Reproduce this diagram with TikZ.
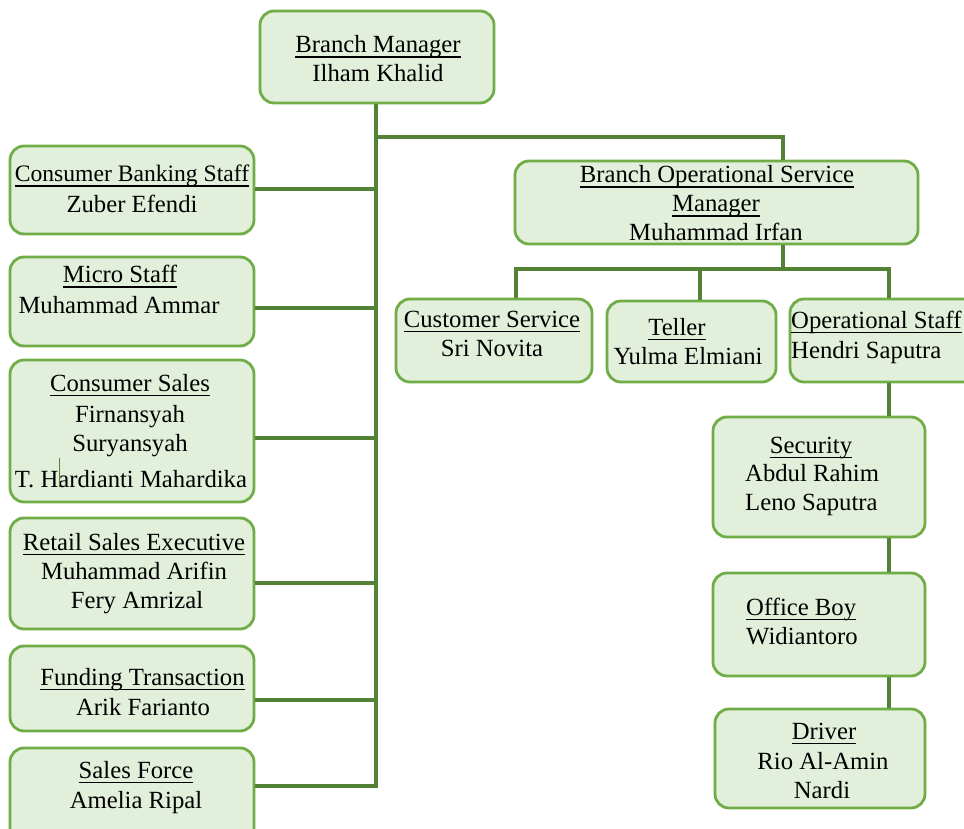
\documentclass[tikz,border=0pt]{standalone}
\usepackage{fontspec}
\setmainfont{Liberation Serif}
\definecolor{lineg}{HTML}{548235}
\definecolor{boxb}{HTML}{70AD47}
\definecolor{boxf}{HTML}{E2EFDA}
\newcommand\uln[1]{\setbox0\hbox{#1}\rlap{\rule[-5.4pt]{\wd0}{1.9pt}}\box0}
\newcommand\bx[5]{\node[box,minimum width={#4-#2},minimum height={#5-#3}] (#1) at ({(#2+#4)/2},{(#3+#5)/2}) {};}
\begin{document}
\begin{tikzpicture}[x=1pt,y=-1pt,
  box/.style={draw=boxb,fill=boxf,line width=2.8pt,rounded corners=14pt,inner sep=0pt},
  conn/.style={draw=lineg,line width=3.8pt},
  txt/.style={anchor=base,inner sep=0pt,font=\fontsize{24.7}{29}\selectfont},
  txtl/.style={txt,anchor=base west}]
\clip (0,0) rectangle (964,829);
\fill[white] (0,0) rectangle (964,829);
% boxes
\bx{bm}{260}{11}{494}{103}
\bx{cbs}{10}{146}{254}{234}
\bx{ms}{10}{257}{254}{346}
\bx{cs}{10}{360}{254}{502}
\bx{rse}{10}{518}{254}{629}
\bx{ft}{10}{646}{254}{731}
\bx{sf}{10}{748}{254}{850}
\bx{bosm}{515}{161}{918}{244}
\bx{csv}{396}{299}{592}{382}
\bx{tel}{607}{301}{776}{382}
\bx{ops}{790}{299}{990}{382}
\bx{sec}{713}{417}{925}{537}
\bx{ob}{713}{573}{925}{676}
\bx{drv}{715}{709}{925}{808}
% coordinates
\coordinate (trunkend) at (376,786);
\coordinate (rtop) at (783,137);
\coordinate (rmid) at (783,269);
\coordinate (hl) at (516,269);
\coordinate (hr) at (889,269);
% connectors
\draw[conn] (bm.south -| trunkend) -- (trunkend);
\draw[conn] (bm.south |- rtop) -- (rtop) -- (rtop |- bosm.north);
\draw[conn] (cbs.east |- {(0,189)}) -- (trunkend |- {(0,189)});
\draw[conn] (ms.east |- {(0,308)}) -- (trunkend |- {(0,308)});
\draw[conn] (cs.east |- {(0,438)}) -- (trunkend |- {(0,438)});
\draw[conn] (rse.east |- {(0,583)}) -- (trunkend |- {(0,583)});
\draw[conn] (ft.east |- {(0,700)}) -- (trunkend |- {(0,700)});
\draw[conn] (sf.east |- trunkend) -- ([xshift=1.9pt]trunkend);
\draw[conn] (rmid |- bosm.south) -- (rmid);
\draw[conn] ([xshift=-1.9pt]hl) -- ([xshift=1.9pt]hr);
\draw[conn] (hl) -- (hl |- csv.north);
\draw[conn] (700,269) -- (tel.north -| 700,0);
\draw[conn] (hr) -- (hr |- ops.north);
\draw[conn] (ops.south -| hr) -- (sec.north -| hr);
\draw[conn] (sec.south -| hr) -- (ob.north -| hr);
\draw[conn] (ob.south -| hr) -- (drv.north -| hr);
% texts
\node[txt] (bm1) at (378,53) {\uln{Branch Manager}};
\node[txt] (bm2) at (378,82) {Ilham Khalid};
\node[txt,font=\fontsize{23.6}{29}\selectfont] (cbs1) at (132,182) {\uln{Consumer Banking Staff}};
\node[txt] (cbs2) at (132,213) {Zuber Efendi};
\node[txt] (ms1) at (120,283) {\uln{Micro Staff}};
\node[txt] (ms2) at (119,313) {Muhammad Ammar};
\node[txt] (cs1) at (130,391) {\uln{Consumer Sales}};
\node[txt] (cs2) at (130,422) {Firnansyah};
\node[txt] (cs3) at (130,451) {Suryansyah};
\node[txt] (cs4) at (131,487) {T. Hardianti Mahardika};
\draw[lineg,line width=1pt] (59,458) -- (59,487);
\node[txt] (rse1) at (134,550) {\uln{Retail Sales Executive}};
\node[txt] (rse2) at (134,579) {Muhammad Arifin};
\node[txt] (rse3) at (137,608) {Fery Amrizal};
\node[txt] (ft1) at (142.5,685) {\uln{Funding Transaction}};
\node[txt] (ft2) at (143,715) {Arik Farianto};
\node[txt] (sf1) at (136,778) {\uln{Sales Force}};
\node[txt] (sf2) at (136,808) {Amelia Ripal};
\node[txt] (bo1) at (717,183) {\uln{Branch Operational Service}};
\node[txt] (bo2) at (716,212) {\uln{Manager}};
\node[txt] (bo3) at (716,241) {Muhammad Irfan};
\node[txt] (csv1) at (492,327) {\uln{Customer Service}};
\node[txt] (csv2) at (492,356) {Sri Novita};
\node[txt] (tel1) at (677,335) {\uln{Teller}};
\node[txt] (tel2) at (688,364) {Yulma Elmiani};
\node[txtl] (ops1) at (791,328) {\uln{Operational Staff}};
\node[txtl] (ops2) at (791,358) {Hendri Saputra};
\node[txt] (sec1) at (811,453) {\uln{Security}};
\node[txtl] (sec2) at (745,481) {Abdul Rahim};
\node[txtl] (sec3) at (745,510) {Leno Saputra};
\node[txtl] (ob1) at (746,615) {\uln{Office Boy}};
\node[txtl] (ob2) at (746,644) {Widiantoro};
\node[txt] (drv1) at (824,739) {\uln{Driver}};
\node[txt] (drv2) at (823,769) {Rio Al-Amin};
\node[txt] (drv3) at (822,798) {Nardi};
\end{tikzpicture}
\end{document}
